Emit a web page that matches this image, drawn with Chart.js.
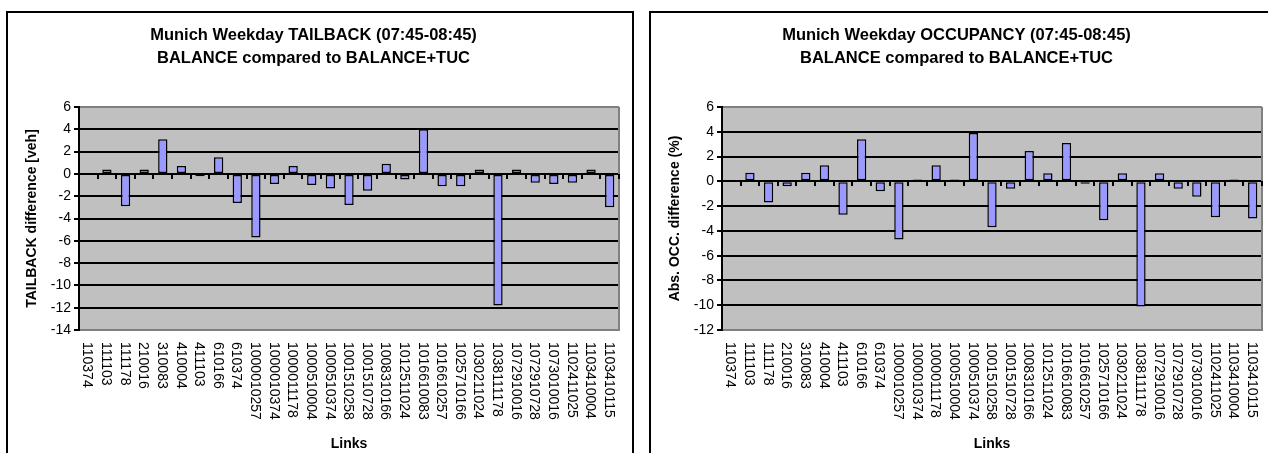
<!DOCTYPE html>
<html>
<head>
<meta charset="utf-8">
<script src="https://cdn.jsdelivr.net/npm/chart.js@4.4.1/dist/chart.umd.min.js"></script>
<style>
  html, body { margin: 0; padding: 0; background: #fff; width: 1268px; height: 453px; overflow: hidden; position: relative; }
  .box { position: absolute; top: 11px; height: 470px; border: 2px solid #000; background: #fff; overflow: hidden; }
  #boxL { left: 6px; width: 624px; }
  #boxR { left: 649px; width: 640px; }
  canvas { position: absolute; left: 0; top: 0; }
</style>
</head>
<body>
<div class="box" id="boxL"><canvas id="cL" width="624" height="440"></canvas></div>
<div class="box" id="boxR"><canvas id="cR" width="624" height="440"></canvas></div>
<script>
const categories = ['110374','111103','111178','210016','310083','410004','411103','610166','610374',
  '1000010257','1000010374','1000011178','1000510004','1000510374','1001510258','1001510728',
  '1008310166','1012511024','1016610083','1016610257','1025710166','1030211024','1038111178',
  '1072910016','1072910728','1073010016','1102411025','1103410004','1103410115'];

const tailbackValues = [0, 0.4, -2.9, 0.4, 3.1, 0.7, -0.2, 1.5, -2.6, -5.7, -0.9, 0.7, -1.0, -1.3,
  -2.8, -1.5, 0.9, -0.5, 4.0, -1.1, -1.1, 0.4, -11.8, 0.4, -0.8, -0.9, -0.8, 0.4, -3.0];

const occupancyValues = [0, 0.7, -1.7, -0.4, 0.7, 1.3, -2.7, 3.4, -0.8, -4.7, 0.15, 1.3, 0.15, 3.9,
  -3.7, -0.6, 2.45, 0.65, 3.1, -0.2, -3.15, 0.65, -10.1, 0.65, -0.6, -1.25, -2.9, 0.15, -3.0];

const tailbackTitle = ['Munich Weekday TAILBACK (07:45-08:45)', 'BALANCE compared to BALANCE+TUC'];
const occupancyTitle = ['Munich Weekday OCCUPANCY (07:45-08:45)', 'BALANCE compared to BALANCE+TUC'];
const tailbackAxisTitle = 'TAILBACK difference [veh]';
const occupancyAxisTitle = 'Abs. OCC. difference (%)';
const xAxisTitle = 'Links';
const tailbackRange = [-14, 6];
const occupancyRange = [-12, 6];
const tickStep = 2;

const FONT = '"Liberation Sans", Arial, Helvetica, sans-serif';
Chart.defaults.color = '#000';
Chart.defaults.font.family = FONT;

const excelLook = {
  id: 'excelLook',
  beforeDraw(chart) {
    const a = chart.chartArea, ctx = chart.ctx;
    ctx.save();
    ctx.fillStyle = '#C0C0C0';
    ctx.fillRect(a.left, a.top, a.right - a.left, a.bottom - a.top);
    ctx.restore();
  },
  beforeDatasetsDraw(chart) {
    const a = chart.chartArea, ctx = chart.ctx;
    const xs = chart.scales.x, ys = chart.scales.y;
    ctx.save();
    ctx.strokeStyle = '#808080';
    ctx.lineWidth = 2;
    ctx.beginPath();
    ctx.moveTo(Math.round(a.right), a.top);
    ctx.lineTo(Math.round(a.right), a.bottom);
    ctx.stroke();
    const y0 = Math.round(ys.getPixelForValue(0));
    ctx.strokeStyle = '#000';
    ctx.lineWidth = 2;
    ctx.beginPath();
    const n = chart.data.labels.length;
    for (let i = 1; i <= n; i++) {
      const xb = Math.round(xs.getPixelForValue(i - 0.5));
      ctx.moveTo(xb, y0);
      ctx.lineTo(xb, y0 + 5);
    }
    ctx.stroke();
    ctx.restore();
  },
  afterDraw(chart) {
    const a = chart.chartArea, ctx = chart.ctx;
    const xs = chart.scales.x;
    ctx.save();
    ctx.font = '14px ' + FONT;
    ctx.fillStyle = '#000';
    ctx.textAlign = 'left';
    ctx.textBaseline = 'middle';
    chart.data.labels.forEach((lab, i) => {
      const x = xs.getPixelForValue(i) - 1;
      ctx.save();
      ctx.translate(x, a.bottom + 12);
      ctx.rotate(Math.PI / 2);
      ctx.fillText(lab, 0, 0);
      ctx.restore();
    });
    ctx.restore();
  }
};

function makeChart(id, values, title, yTitle, range) {
  return new Chart(document.getElementById(id), {
    type: 'bar',
    data: {
      labels: categories,
      datasets: [{
        data: values,
        backgroundColor: '#9999FF',
        borderColor: '#000',
        borderWidth: 1.5,
        borderSkipped: false,
        categoryPercentage: 1,
        barPercentage: 0.5
      }]
    },
    options: {
      responsive: false,
      animation: false,
      layout: { padding: { left: 0, right: 13, top: 0, bottom: 0 } },
      plugins: {
        legend: { display: false },
        tooltip: { enabled: false },
        title: {
          display: true,
          text: title,
          color: '#000',
          font: { size: 16.5, weight: 'bold', family: FONT, lineHeight: 1.4 },
          padding: { top: 11, bottom: 36.8 }
        }
      },
      scales: {
        x: {
          type: 'category',
          grid: { display: false },
          border: { display: true, color: '#808080', width: 2 },
          ticks: { display: false },
          title: {
            display: true, text: xAxisTitle, color: '#000',
            font: { size: 14, weight: 'bold', family: FONT, lineHeight: 1.2 },
            padding: { top: 12.6, bottom: 0 }
          },
          afterFit(s) { s.height = 123; }
        },
        y: {
          min: range[0], max: range[1],
          ticks: {
            stepSize: tickStep, color: '#000', padding: 3,
            font: { size: 14, family: FONT }
          },
          grid: {
            color: (c) => (c.tick && (c.tick.value === range[0] || c.tick.value === range[1])) ? '#808080' : '#000',
            lineWidth: 2,
            tickLength: 5,
            tickColor: '#000',
            drawTicks: true
          },
          border: { display: true, color: '#000', width: 2 },
          title: {
            display: true, text: yTitle, color: '#000',
            font: { size: 14, weight: 'bold', family: FONT, lineHeight: 1.2 },
            padding: { top: 15.6, bottom: 0 }
          },
          afterFit(s) { s.width = 71; }
        }
      }
    },
    plugins: [excelLook]
  });
}

makeChart('cL', tailbackValues, tailbackTitle, tailbackAxisTitle, tailbackRange);
makeChart('cR', occupancyValues, occupancyTitle, occupancyAxisTitle, occupancyRange);
</script>
</body>
</html>
